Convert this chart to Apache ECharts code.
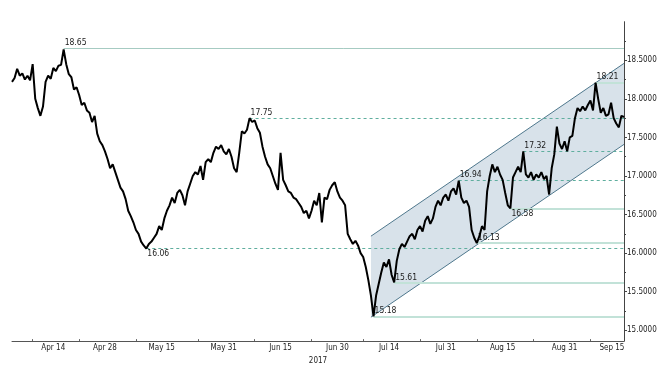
<!DOCTYPE html>
<html><head><meta charset="utf-8">
<script src="https://cdn.jsdelivr.net/npm/echarts@6/dist/echarts.min.js"></script>
<style>html,body{margin:0;padding:0;background:#fff}#c{width:663px;height:370px}</style>
</head><body><div id="c"></div>
<script>
// ---- DATA ----
// USD/MXN, two readings per trading day (AM / PM), Apr 4 – Sep 15 2017
const prices = [
18.22,18.27,18.39,18.30,18.33,18.25,18.30,18.24,18.45,18.00,
17.88,17.78,17.90,18.22,18.30,18.26,18.40,18.36,18.43,18.44,
18.64,18.45,18.32,18.28,18.12,18.15,18.05,17.92,17.95,17.85,
17.82,17.70,17.78,17.55,17.45,17.40,17.32,17.22,17.10,17.15,
17.05,16.95,16.85,16.80,16.70,16.55,16.48,16.40,16.30,16.25,
16.15,16.10,16.06,16.12,16.15,16.20,16.25,16.35,16.30,16.45,
16.55,16.62,16.72,16.65,16.78,16.82,16.75,16.62,16.80,16.90,
17.00,17.05,17.02,17.13,16.95,17.18,17.22,17.18,17.30,17.38,
17.35,17.40,17.32,17.28,17.35,17.25,17.10,17.05,17.30,17.58,
17.55,17.60,17.75,17.70,17.72,17.62,17.56,17.38,17.25,17.15,
17.10,17.00,16.90,16.82,17.30,16.95,16.88,16.80,16.78,16.72,
16.70,16.65,16.60,16.52,16.55,16.45,16.55,16.68,16.62,16.78,
16.40,16.72,16.70,16.82,16.88,16.92,16.80,16.72,16.68,16.62,
16.25,16.18,16.12,16.16,16.10,16.00,15.95,15.82,15.65,15.45,
15.18,15.45,15.60,15.75,15.88,15.82,15.92,15.72,15.62,15.90,
16.05,16.12,16.08,16.15,16.22,16.25,16.18,16.30,16.35,16.28,
16.42,16.48,16.38,16.45,16.60,16.68,16.62,16.72,16.76,16.68,
16.80,16.84,16.76,16.94,16.72,16.65,16.68,16.60,16.30,16.20,
16.13,16.22,16.35,16.30,16.80,17.00,17.15,17.05,17.12,17.02,
16.95,16.78,16.62,16.58,16.98,17.05,17.12,17.05,17.32,17.02,
16.98,17.05,16.95,17.02,16.98,17.05,16.96,17.00,16.76,17.10,
17.28,17.64,17.42,17.35,17.45,17.32,17.50,17.52,17.75,17.88,
17.84,17.90,17.85,17.92,17.98,17.85,18.21,18.00,17.82,17.88,
17.78,17.80,17.95,17.75,17.68,17.63,17.78,17.765
];
const lastPrice = 17.765;

const labelDates = ['2017-04-14','2017-04-28','2017-05-15','2017-05-31','2017-06-15','2017-06-30','2017-07-14','2017-07-31','2017-08-15','2017-08-31','2017-09-15'];
const labelTexts = ['Apr 14','Apr 28','May 15','May 31','Jun 15','Jun 30','Jul 14','Jul 31','Aug 15','Aug 31','Sep 15'];
const minorXTickDates = ['2017-04-10','2017-04-21','2017-05-08','2017-05-24','2017-06-08','2017-06-23','2017-07-07','2017-07-24','2017-08-08','2017-08-23','2017-09-07'];
const yearLabel = '2017';

const yTickValues = [15, 15.5, 16, 16.5, 17, 17.5, 18, 18.5];
const yMinorTickValues = [15.25, 15.75, 16.25, 16.75, 17.25, 17.75, 18.25, 18.75];

// Key levels: value and index of the reading where the level was set
const levelValues   = [18.65, 17.75, 16.06, 15.18, 15.61, 16.13, 16.58, 16.94, 17.32, 18.21];
const levelStartIdx = [20, 92, 52, 140, 148, 180, 193, 173, 198, 226];

// Trend channel (start index, end index, values at ends)
const channelIdx   = [139.4, 237];
const channelUpper = [16.22, 18.46];
const channelLower = [15.17, 17.41];

// ---- STYLE ----
const levelKinds = ['thin','dash','dash','solid','solid','solid','solid','dash','dash','solid'];
const levelLabelPos = ['insideStartTop','insideStartTop','insideStartBottom','insideStartTop','insideStartTop','insideStartTop','insideStartBottom','insideStartTop','insideStartTop','insideStartTop'];
const FONT = "'Liberation Sans Narrow','DejaVu Sans Condensed',sans-serif";
const kindStyle = {
  thin:  {color:'#a6cbc2', width:1, type:'solid'},
  dash:  {color:'#5fae9e', width:1, type:[3,3]},
  solid: {color:'#c2e2d8', width:2, type:'solid'}
};

// ---- BUILD ----
const categories = [];
for (let t = Date.UTC(2017,3,4); t <= Date.UTC(2017,8,15); t += 864e5) {
  const d = new Date(t); const wd = d.getUTCDay();
  if (wd === 0 || wd === 6) continue;
  const s = d.toISOString().slice(0,10);
  categories.push(s + ' AM', s + ' PM');
}
const labelMap = {};
labelDates.forEach((d,k)=>{ labelMap[d + ' AM'] = labelTexts[k]; });
const minorTickSet = new Set(minorXTickDates.map(d=>d + ' AM'));

const levelLines = levelValues.map((v,k)=>{
  const st = kindStyle[levelKinds[k]];
  return [
    {coord:[categories[levelStartIdx[k]], v],
     lineStyle:{color:st.color, width:st.width, type:st.type},
     label:{show:true, position:levelLabelPos[k], formatter:v.toFixed(2), distance:1,
            fontSize:8.5, color:'#1a1a1a', fontFamily:FONT}},
    {coord:[categories[categories.length-1], v]}
  ];
});
levelLines.push([
  {coord:[categories[categories.length-1], lastPrice], lineStyle:{opacity:0},
   label:{show:true, position:'end', formatter:lastPrice.toFixed(4), distance:2,
          backgroundColor:'#000', color:'#fff', padding:[1,2,0,2], fontSize:8, fontFamily:FONT}},
  {coord:[categories[categories.length-1], lastPrice]}
]);

const chart = echarts.init(document.getElementById('c'), null, {renderer:'canvas'});
chart.setOption({
  animation:false,
  backgroundColor:'#fff',
  grid:{left:12, right:39, top:21.7, bottom:20},
  xAxis:[{
    type:'category', data:categories, boundaryGap:false,
    axisLine:{show:true, lineStyle:{color:'#555', width:1}},
    axisTick:{show:true, interval:(i,v)=>minorTickSet.has(v), length:2, inside:true, lineStyle:{color:'#666'}},
    axisLabel:{show:true, interval:(i,v)=>labelMap[v]!==undefined,
      formatter:(v)=> v.startsWith('2017-09-15') ? '{r|'+labelMap[v]+'}' : labelMap[v],
      rich:{r:{padding:[0,19,0,0], fontSize:8, color:'#222', fontFamily:FONT}},
      fontSize:8, color:'#222', margin:3, fontFamily:FONT},
    splitLine:{show:false},
    name:yearLabel, nameLocation:'middle', nameGap:8,
    nameTextStyle:{fontSize:8, color:'#222', fontFamily:FONT, verticalAlign:'top'}
  }],
  yAxis:[{
    type:'value', position:'right', min:14.86, max:19,
    axisLine:{show:true, lineStyle:{color:'#444', width:1}},
    axisTick:{show:true, customValues:yTickValues, length:3, lineStyle:{color:'#444'}},
    axisLabel:{show:true, customValues:yTickValues, formatter:(v)=>Number(v).toFixed(4),
      fontSize:8, color:'#222', margin:3, fontFamily:FONT},
    splitLine:{show:false}
  },{
    type:'value', position:'right', min:14.86, max:19,
    axisLine:{show:false},
    axisTick:{show:true, customValues:yMinorTickValues, length:2, lineStyle:{color:'#444'}},
    axisLabel:{show:false}, splitLine:{show:false}
  }],
  series:[{
    type:'custom', silent:true, z:1, xAxisIndex:0, yAxisIndex:0,
    data:[[channelIdx[0], channelUpper[0]]],
    renderItem:(params, api)=>{
      const a = api.coord([channelIdx[0], channelUpper[0]]);
      const b = api.coord([channelIdx[1], channelUpper[1]]);
      const c = api.coord([channelIdx[1], channelLower[1]]);
      const d = api.coord([channelIdx[0], channelLower[0]]);
      return {type:'group', children:[
        {type:'polygon', shape:{points:[a,b,c,d]}, style:{fill:'#d8e2ea'}},
        {type:'line', shape:{x1:a[0],y1:a[1],x2:b[0],y2:b[1]}, style:{stroke:'#4f788d', lineWidth:1}},
        {type:'line', shape:{x1:d[0],y1:d[1],x2:c[0],y2:c[1]}, style:{stroke:'#4f788d', lineWidth:1}}
      ]};
    }
  },{
    type:'line', data:prices, z:5, showSymbol:false, symbol:'none',
    lineStyle:{color:'#000', width:2}, silent:true,
    markLine:{silent:true, symbol:['none','none'], animation:false, z:3, data:levelLines}
  }]
});
</script></body></html>
